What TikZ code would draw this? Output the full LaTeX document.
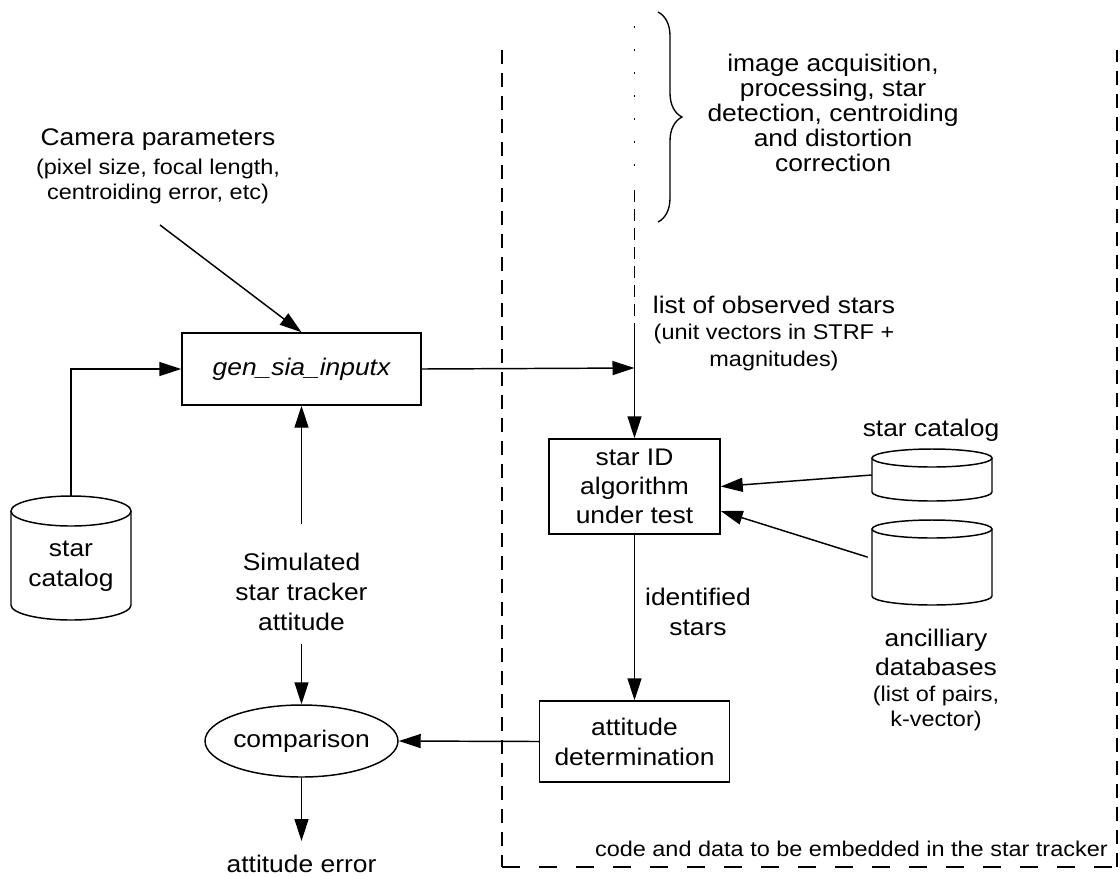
\documentclass[tikz,border=0pt]{standalone}
\usepackage{fontspec}
\setmainfont{Liberation Sans}[FakeStretch=1.1]
\usetikzlibrary{arrows.meta,decorations.pathreplacing,shapes.geometric}
\begin{document}
\begin{tikzpicture}[x=0.75pt,y=-0.75pt,
  mainf/.style={font=\fontsize{18}{22.5}\selectfont, align=center, inner sep=0pt},
  smallf/.style={font=\fontsize{16}{18.75}\selectfont, align=center, inner sep=0pt},
  procbox/.style={draw, line width=1.1pt, inner sep=0pt, align=center},
  cylbox/.style={inner sep=0pt},
  arr/.style={-{Triangle[length=16.5pt,width=10.5pt]}, line width=1.1pt},
  vdash/.style={line width=1pt, dash pattern=on 10.5pt off 6.75pt},
  hdash/.style={line width=1pt, dash pattern=on 13.5pt off 14.25pt},
  shape line/.style={line width=1.1pt}
]
\useasboundingbox (0,0) rectangle (1120,876);

% ---------- dashed frame ----------
\draw[vdash] (502,50) -- (502,867);
\draw[hdash] (502,867) -- (1117,867);
\draw[vdash] (1117,867) -- (1117,50);

% ---------- process nodes ----------
\node[procbox, mainf, minimum width=179.25pt, minimum height=54pt] (gen) at (301.5,369)
  {\itshape gen\_sia\_inputx};
\node[procbox, mainf, font=\fontsize{18}{21.75}\selectfont, minimum width=128.25pt, minimum height=71.25pt] (starid) at (634.5,486.5)
  {star ID\\algorithm\\under test};
\node[procbox, mainf, minimum width=142.5pt, minimum height=60.75pt] (attdet) at (634.5,741.5)
  {attitude\\determination};
\node[draw, ellipse, shape line, mainf, minimum width=129pt, minimum height=54pt] (cmp) at (301.5,741)
  {comparison};

% ---------- cylinders ----------
\node[cylbox, minimum width=90pt, minimum height=93pt] (cat1) at (71,558) {};
\draw[shape line] (71,511) ellipse [x radius=45pt, y radius=11.25pt];
\draw[shape line] (11,511) -- (11,605) arc[start angle=180, end angle=360, x radius=45pt, y radius=11.25pt] -- (131,511);
\node[mainf] (cat1lbl) at (71,566) {star\\catalog};

\node[cylbox, minimum width=90pt, minimum height=39pt] (cat2) at (932,475) {};
\draw[shape line] (932,458) ellipse [x radius=45pt, y radius=6.75pt];
\draw[shape line] (872,458) -- (872,492) arc[start angle=180, end angle=360, x radius=45pt, y radius=6.75pt] -- (992,458);

\node[cylbox, minimum width=90pt, minimum height=63.75pt] (anc) at (932,562.5) {};
\draw[shape line] (932,529) ellipse [x radius=45pt, y radius=6.75pt];
\draw[shape line] (872,529) -- (872,596) arc[start angle=180, end angle=360, x radius=45pt, y radius=6.75pt] -- (992,529);

% ---------- labels ----------
\node[mainf] (cam) at (158,140) {Camera parameters};
\node[smallf] (camsub) at (158,181) {(pixel size, focal length,\\centroiding error, etc)};
\node[mainf] (sim) at (301.5,591.5) {Simulated\\star tracker\\attitude};
\node[mainf] (obslbl) at (774,305) {list of observed stars};
\node[smallf, font=\fontsize{16}{20.25}\selectfont] (obssub) at (774,347) {(unit vectors in STRF +\\magnitudes)};
\node[mainf] (cat2lbl) at (931,430) {star catalog};
\node[mainf] (idlbl) at (698,612) {identified\\stars};
\node[mainf, font=\fontsize{18}{21.75}\selectfont] (anclbl) at (936,652) {ancilliary\\databases};
\node[smallf] (ancsub) at (936,708) {(list of pairs,\\k-vector)};
\node[mainf, font=\fontsize{18}{18.75}\selectfont] (bracelbl) at (833,113)
  {image acquisition,\\processing, star\\detection, centroiding\\and distortion\\correction};
\node[smallf, anchor=east] (codelbl) at (1108,849) {code and data to be embedded in the star tracker};
\node[mainf] (aerr) at (301.5,864) {attitude error};

% ---------- brace and observed-stars line ----------
\draw[line width=1pt, decorate, decoration={brace, amplitude=18pt}] (658,12) -- (658,222);
\coordinate (dottop) at (634.5,26);
\coordinate (dotbot) at (634.5,170);
\coordinate (dashtop) at (634.5,190);
\coordinate (obstop) at (634.5,332);
\coordinate (obs) at (634.5,368);
\draw[line width=1.2pt, dash pattern=on 1.2pt off 16.05pt] (dottop) -- (dotbot);
\draw[line width=1pt, dash pattern=on 9pt off 5.25pt] (dashtop) -- (obstop);

% ---------- connectors ----------
\coordinate (camend) at (160,225);
\coordinate (simtop) at (301.5,524);
\coordinate (simbot) at (301.5,644);
\coordinate (aerrtop) at (301.5,841);

\draw[arr] (cat1.north) |- (gen.west);
\draw[arr] (camend) -- (gen.north);
\draw[arr] (simtop) -- (gen.south);
\draw[arr] (simbot) -- (cmp.north);
\draw[arr] (cmp.south) -- (aerrtop);
\draw[arr] (gen.east) -- (obs);
\draw[arr] (obstop) -- (starid.north);
\draw[arr] (cat2.west) -- (starid.east);
\draw[arr] ([xshift=-3pt,yshift=4pt]anc.west) -- ([yshift=-18.4pt]starid.east);
\draw[arr] (starid.south) -- (attdet.north);
\draw[arr] (attdet.west) -- (cmp.east);
\end{tikzpicture}
\end{document}
